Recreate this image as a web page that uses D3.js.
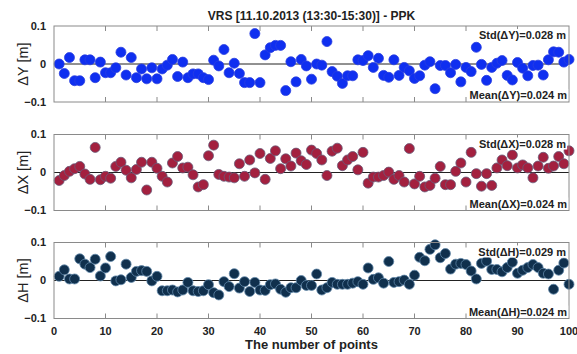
<!DOCTYPE html>
<html><head><meta charset="utf-8">
<script src="https://cdn.jsdelivr.net/npm/d3@7"></script>
<style>
html,body{margin:0;padding:0;background:#fff;}
svg{display:block;font-family:"Liberation Sans",Arial,sans-serif;}
</style></head>
<body><svg id="c" width="577" height="354"></svg>
<script>
const title = "VRS [11.10.2013 (13:30-15:30)] - PPK";
const xLabel = "The number of points";
const xTicks = [0,10,20,30,40,50,60,70,80,90,100];
const yTicks = [-0.1,0,0.1];
const yTickLabels = ["\u22120.1","0","0.1"];
const pointIndex = d3.range(1,101);
const panelNames = ["\u0394Y [m]","\u0394X [m]","\u0394H [m]"];
const stdLabels = ["Std(\u0394Y)=0.028 m","Std(\u0394X)=0.028 m","Std(\u0394H)=0.029 m"];
const meanLabels = ["Mean(\u0394Y)=0.024 m","Mean(\u0394X)=0.024 m","Mean(\u0394H)=0.024 m"];

const dY = [0.000,-0.025,0.017,-0.044,-0.044,0.011,0.011,-0.036,0.005,-0.023,
-0.023,-0.010,0.031,-0.029,0.017,-0.036,-0.013,-0.039,-0.010,-0.039,
-0.013,-0.003,0.012,-0.033,0.005,-0.036,-0.026,-0.026,-0.036,-0.041,
0.010,-0.005,0.038,-0.023,0.002,-0.025,-0.049,-0.049,0.080,-0.049,
0.024,0.043,0.049,0.049,-0.070,0.006,-0.047,0.012,-0.005,-0.040,
0.000,-0.003,0.059,-0.020,-0.032,-0.051,-0.031,-0.031,0.011,0.009,
0.022,-0.009,0.015,-0.030,-0.035,0.011,-0.030,-0.009,-0.018,-0.038,
-0.031,-0.003,0.006,-0.065,-0.004,-0.004,-0.023,-0.001,-0.047,-0.009,
-0.020,0.044,-0.001,-0.043,-0.009,0.002,0.009,-0.030,-0.042,0.004,
-0.011,-0.031,-0.004,-0.003,-0.029,0.011,0.032,0.031,0.005,0.012];

const dX = [-0.021,-0.008,0.003,0.010,0.016,-0.004,-0.018,0.066,-0.019,-0.010,
-0.015,0.016,0.027,0.006,-0.014,0.008,0.027,-0.046,0.027,0.011,
-0.010,-0.025,0.025,0.042,0.012,0.014,-0.006,-0.038,-0.032,0.044,
0.072,-0.005,-0.010,-0.012,-0.014,0.023,-0.010,0.033,-0.001,0.050,
-0.018,0.037,0.057,0.010,0.036,0.017,0.051,0.031,0.021,0.059,
0.050,0.033,-0.008,0.056,0.064,0.018,0.033,0.042,0.007,0.053,
-0.028,-0.012,-0.012,-0.008,0.001,-0.018,-0.008,-0.025,0.063,-0.030,
-0.010,-0.038,-0.034,-0.015,0.016,-0.032,-0.032,0.003,0.025,-0.025,
0.053,-0.003,-0.036,-0.003,-0.034,0.012,0.033,0.018,0.046,0.012,
0.020,0.012,-0.014,0.017,0.040,0.011,0.017,0.042,0.023,0.057];

const dH = [0.011,0.028,0.004,0.004,0.057,0.043,0.034,0.056,0.012,0.033,
0.063,-0.001,0.002,0.043,0.008,0.024,0.026,0.024,-0.001,0.011,
-0.027,-0.027,-0.025,-0.030,-0.025,-0.005,-0.027,-0.029,-0.027,-0.011,
-0.032,-0.038,-0.003,-0.016,0.018,-0.020,-0.003,-0.029,-0.005,-0.025,
-0.026,-0.011,-0.009,-0.023,-0.031,-0.019,-0.019,0.000,-0.013,-0.013,
0.017,-0.025,-0.019,-0.005,-0.010,-0.010,-0.010,-0.007,-0.003,-0.010,
0.033,0.003,0.007,-0.007,0.050,-0.005,-0.003,0.001,-0.010,0.014,
0.061,0.052,0.082,0.094,0.060,0.071,0.030,0.043,0.045,0.042,
0.025,0.004,0.045,0.051,0.029,0.029,0.023,0.034,0.048,0.019,
0.027,0.034,0.042,0.034,0.019,0.017,-0.023,0.027,0.046,-0.010];

const series = [dY, dX, dH];
const fills = ["#0f2ff0","#a3203f","#10304d"];
const strokes = ["#2a3fe0","#6a5a78","#5f86a8"];

const svg = d3.select("#c");
const left = 54, right = 569, panelH = 76;
const tops = [26, 134.5, 242.5];
const x = d3.scaleLinear().domain([0,100]).range([left,right]);
const axisCol = "#8a8a8a";

svg.append("text").attr("x",(left+right)/2).attr("y",20).attr("text-anchor","middle")
  .attr("font-size","12px").attr("font-weight","bold").attr("fill","#222").text(title);

series.forEach((vals,p)=>{
  const top = tops[p], bot = top+panelH;
  const y = d3.scaleLinear().domain([-0.1,0.1]).range([bot,top]);
  const g = svg.append("g");
  g.append("line").attr("x1",left).attr("x2",right).attr("y1",y(0)).attr("y2",y(0))
    .attr("stroke","#222").attr("stroke-width",1);
  g.selectAll(".xtb").data(xTicks.slice(1,-1)).join("line")
    .attr("x1",d=>x(d)).attr("x2",d=>x(d)).attr("y1",bot).attr("y2",bot-5)
    .attr("stroke",axisCol).attr("stroke-width",1);
  g.selectAll(".xtt").data(xTicks.slice(1,-1)).join("line")
    .attr("x1",d=>x(d)).attr("x2",d=>x(d)).attr("y1",top).attr("y2",top+5)
    .attr("stroke",axisCol).attr("stroke-width",1);
  g.selectAll(".ytl").data(yTicks).join("text")
    .attr("x",left-8).attr("y",d=>y(d)).attr("dy","0.35em").attr("text-anchor","end")
    .attr("font-size","11px").attr("font-weight","bold").attr("fill","#222")
    .text((d,i)=>yTickLabels[i]);
  g.append("text").attr("transform",`translate(27.5,${(top+bot)/2}) rotate(-90)`)
    .attr("text-anchor","middle").attr("font-size","14.5px").attr("fill","#222").text(panelNames[p]);
  g.selectAll("circle").data(vals).join("circle")
    .attr("cx",(d,i)=>x(pointIndex[i])).attr("cy",d=>y(d)).attr("r",5)
    .attr("fill",fills[p]).attr("stroke",strokes[p]).attr("stroke-width",0.8);
  g.append("rect").attr("x",left).attr("y",top).attr("width",right-left).attr("height",panelH)
    .attr("fill","none").attr("stroke",axisCol).attr("stroke-width",1);
  const st = g.append("text").attr("x",right-3).attr("y",top+13).attr("text-anchor","end")
    .attr("font-size","11px").attr("font-weight","bold").attr("fill","#222").text(stdLabels[p]);
  const mt = g.append("text").attr("x",right-2).attr("y",bot-3).attr("text-anchor","end")
    .attr("font-size","11px").attr("font-weight","bold").attr("fill","#222").text(meanLabels[p]);
  [st,mt].forEach(t=>{
    const b = t.node().getBBox();
    g.insert("rect", function(){return t.node();}).attr("x",b.x-1).attr("y",b.y)
      .attr("width",b.width+2).attr("height",b.height).attr("fill","#fff");
  });
  if(p===2){
    g.selectAll(".xl").data(xTicks).join("text")
      .attr("x",d=>x(d)).attr("y",bot+16).attr("text-anchor","middle")
      .attr("font-size","11px").attr("font-weight","bold").attr("fill","#222").text(d=>d);
  }
});

svg.append("text").attr("x",(left+right)/2).attr("y",349).attr("text-anchor","middle")
  .attr("font-size","13px").attr("font-weight","bold").attr("fill","#222").text(xLabel);
</script>
</body></html>
